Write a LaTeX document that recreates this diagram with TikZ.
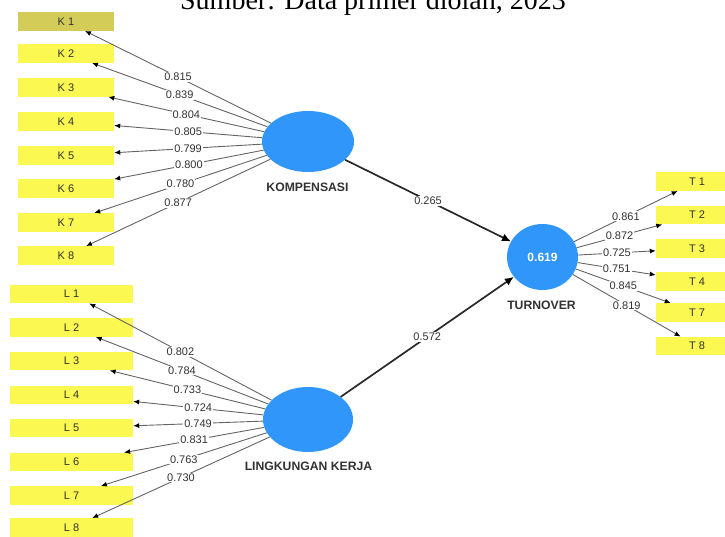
\documentclass[tikz,border=0pt]{standalone}
\usepackage{fontspec}
\setmainfont{Liberation Serif}
\setsansfont{Liberation Sans}
\usetikzlibrary{arrows.meta,shapes.geometric}

\definecolor{plsblue}{RGB}{48,150,250}
\definecolor{plsyellow}{RGB}{252,248,82}
\definecolor{plsolive}{RGB}{212,204,88}
\definecolor{plsgray}{RGB}{100,100,100}
\definecolor{plsdark}{RGB}{40,40,40}
\definecolor{plstext}{RGB}{50,50,50}

\tikzset{
  indicator/.style={rectangle,fill=plsyellow,inner sep=0pt,minimum height=18.5pt,
    text=plstext,font=\sffamily\fontsize{11}{12}\selectfont},
  construct/.style={ellipse,fill=plsblue,inner sep=0pt},
  constructname/.style={text=plstext,font=\sffamily\bfseries\fontsize{12.2}{14}\selectfont},
  loading/.style={draw=plsgray,line width=0.9pt,-{Latex[length=6pt,width=5pt,color=black]}},
  pathcoef/.style={draw=plsdark,line width=1.7pt,-{Latex[length=9pt,width=8pt,color=black]}},
  weight/.style={fill=white,inner sep=1pt,text=plstext,font=\sffamily\fontsize{11}{12}\selectfont}
}

\begin{document}
\begin{tikzpicture}[x=1pt,y=-1pt]
\useasboundingbox (0,0) rectangle (725,536);
\draw (373,9.5) node[anchor=base] (source) {\fontsize{28}{30}\selectfont Sumber: Data primer diolah, 2023};

% constructs
\draw (308,141.5) node[construct,minimum width=92pt,minimum height=61pt] (kompensasi) {};
\draw (307.5,187.5) node[constructname] (kompensasi-label) {KOMPENSASI};
\draw (308,419.5) node[construct,minimum width=90pt,minimum height=65pt] (lingkungan) {};
\draw (308.5,466.5) node[constructname] (lingkungan-label) {LINGKUNGAN KERJA};
\draw (542.5,257) node[construct,minimum width=71pt,minimum height=66pt,
  text=white,font=\sffamily\bfseries\fontsize{12}{14}\selectfont] (turnover) {0.619};
\draw (541.5,305.3) node[constructname] (turnover-label) {TURNOVER};

% indicators KOMPENSASI
\draw (66,21.5) node[indicator,minimum width=96pt,fill=plsolive] (K1) {K 1};
\draw (66,53.5) node[indicator,minimum width=96pt] (K2) {K 2};
\draw (66,87.5) node[indicator,minimum width=96pt] (K3) {K 3};
\draw (66,121.5) node[indicator,minimum width=96pt] (K4) {K 4};
\draw (66,155.5) node[indicator,minimum width=96pt] (K5) {K 5};
\draw (66,188.5) node[indicator,minimum width=96pt] (K6) {K 6};
\draw (66,222.5) node[indicator,minimum width=96pt] (K7) {K 7};
\draw (66,255.5) node[indicator,minimum width=96pt] (K8) {K 8};

% indicators LINGKUNGAN KERJA
\draw (71.5,294) node[indicator,minimum width=123pt] (L1) {L 1};
\draw (71.5,327.5) node[indicator,minimum width=123pt] (L2) {L 2};
\draw (71.5,361) node[indicator,minimum width=123pt] (L3) {L 3};
\draw (71.5,395) node[indicator,minimum width=123pt] (L4) {L 4};
\draw (71.5,428) node[indicator,minimum width=123pt] (L5) {L 5};
\draw (71.5,462) node[indicator,minimum width=123pt] (L6) {L 6};
\draw (71.5,495.5) node[indicator,minimum width=123pt] (L7) {L 7};
\draw (71.5,527.5) node[indicator,minimum width=123pt] (L8) {L 8};

% indicators TURNOVER
\draw (697,181.5) node[indicator,minimum width=82pt] (T1) {T 1};
\draw (697,215) node[indicator,minimum width=82pt] (T2) {T 2};
\draw (697,248.5) node[indicator,minimum width=82pt] (T3) {T 3};
\draw (697,281.5) node[indicator,minimum width=82pt] (T4) {T 4};
\draw (697,312.5) node[indicator,minimum width=82pt] (T7) {T 7};
\draw (697,346) node[indicator,minimum width=82pt] (T8) {T 8};

     \path[loading] (kompensasi) edge node[weight] {0.815} (K1);
     \path[loading] (kompensasi) edge node[weight] {0.839} (K2);
     \path[loading] (kompensasi) edge node[weight] {0.804} (K3);
     \path[loading] (kompensasi) edge node[weight] {0.805} (K4);
     \path[loading] (kompensasi) edge node[weight] {0.799} (K5);
     \path[loading] (kompensasi) edge node[weight] {0.800} (K6);
     \path[loading] (kompensasi) edge node[weight] {0.780} (K7);
     \path[loading] (kompensasi) edge node[weight] {0.877} (K8);

     \path[loading] (lingkungan) edge node[weight] {0.802} (L1);
     \path[loading] (lingkungan) edge node[weight] {0.784} (L2);
     \path[loading] (lingkungan) edge node[weight] {0.733} (L3);
     \path[loading] (lingkungan) edge node[weight] {0.724} (L4);
     \path[loading] (lingkungan) edge node[weight] {0.749} (L5);
     \path[loading] (lingkungan) edge node[weight] {0.831} (L6);
     \path[loading] (lingkungan) edge node[weight] {0.763} (L7);
     \path[loading] (lingkungan) edge node[weight] {0.730} (L8);

     \path[loading] (turnover) edge node[weight] {0.861} (T1);
     \path[loading] (turnover) edge node[weight] {0.872} (T2);
     \path[loading] (turnover) edge node[weight] {0.725} (T3);
     \path[loading] (turnover) edge node[weight] {0.751} (T4);
     \path[loading] (turnover) edge node[weight] {0.845} (T7);
     \path[loading] (turnover) edge node[weight] {0.819} (T8);

     \path[pathcoef] (kompensasi) edge node[weight] {0.265} (turnover);
     \path[pathcoef] (lingkungan) edge node[weight] {0.572} (turnover);

\end{tikzpicture}
\end{document}
